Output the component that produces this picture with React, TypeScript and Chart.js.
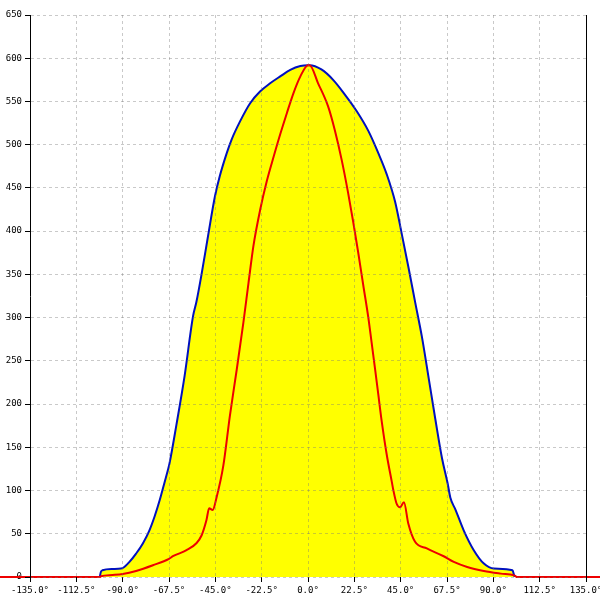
import React, { useEffect, useRef } from "react";
import { Chart, registerables } from "chart.js";

Chart.register(...registerables);

// Angles (degrees) and values for the outer (blue, filled) curve
const blueAngles = [-101.1, -100.6, -99.8, -94.9, -90.8, -89.2, -86.7, -83.5, -80.2, -77.0, -74.5, -72.0, -69.6, -68.0, -67.2, -63.9, -59.9, -55.8, -54.2, -51.7, -48.5, -45.2, -42.8, -39.5, -37.1, -33.0, -28.1, -23.3, -18.4, -13.5, -8.6, -3.7, 0.0, 0.8, 6.5, 12.2, 17.9, 23.6, 29.3, 34.2, 38.2, 42.3, 45.6, 48.8, 52.1, 55.3, 58.6, 61.8, 65.1, 67.8, 69.1, 71.6, 75.6, 80.5, 85.4, 90.3, 99.3, 100.1, 100.4];
const blueValues = [0, 5.8, 7.8, 9.3, 9.7, 11.6, 17.4, 27, 38.8, 54, 70, 89, 110, 124, 132, 176, 233, 302, 318, 350, 395, 440, 464, 490, 506, 527, 548, 561.5, 571, 579, 586.5, 591, 592, 592, 587, 575, 558, 539, 516, 490, 466, 434, 396, 358, 317, 278, 230, 183, 137, 108.5, 92, 78, 54, 31, 15.5, 9.7, 7.8, 1.9, 0];

// Angles (degrees) and values for the inner (red) curve
const redAngles = [-150, -101.1, -100.6, -94.9, -90.0, -83.5, -75.3, -67.5, -65.6, -59.0, -54.2, -51.7, -49.3, -48.0, -46.3, -44.4, -41.1, -37.9, -34.6, -31.4, -28.9, -26.5, -23.2, -20.0, -16.7, -13.5, -10.2, -7.0, -3.7, 0.0, 0.8, 4.9, 9.8, 13.0, 16.3, 19.5, 22.0, 24.4, 26.8, 29.3, 30.9, 32.5, 34.2, 35.8, 38.2, 40.7, 41.4, 43.0, 44.7, 46.6, 48.7, 52.0, 57.7, 65.9, 70.8, 77.3, 85.4, 93.6, 100.1, 100.9, 101.5, 150];
const redValues = [0, 0, 0.8, 2.3, 3.5, 7, 13.6, 21, 24, 31, 39, 48, 66, 79.5, 77.5, 92, 129, 187, 240, 294, 340, 383, 425, 458, 486, 512, 537, 560, 579, 592, 592, 571, 544, 517, 483, 444, 410, 375, 338, 300, 271, 242, 210, 180, 142, 110, 101, 85, 80.6, 86.4, 62, 40.7, 33, 24, 17.4, 11.6, 7, 3.9, 1.9, 0.8, 0, 0];

// Axis ranges / ticks
const xMin = -135;
const xMax = 135;
const xStep = 22.5;
const yMin = 0;
const yMax = 650;
const yStep = 50;

const tickFont = { family: "'DejaVu Sans Mono', monospace", size: 9 };
const gridColor = "rgba(120,120,120,0.4)";

export default function App() {
  const canvasRef = useRef<HTMLCanvasElement | null>(null);

  useEffect(() => {
    const canvas = canvasRef.current;
    if (!canvas) return;
    const blueData = blueAngles.map((x, i) => ({ x, y: blueValues[i] }));
    const redData = redAngles.map((x, i) => ({ x, y: redValues[i] }));

    const chart = new Chart(canvas, {
      type: "line",
      data: {
        datasets: [
          {
            label: "inner",
            data: redData,
            borderColor: "#ee0000",
            borderWidth: 2,
            pointRadius: 0,
            fill: false,
            cubicInterpolationMode: "monotone",
            clip: false as any,
          },
          {
            label: "outer",
            data: blueData,
            borderColor: "#0010c0",
            backgroundColor: "#ffff00",
            borderWidth: 2,
            pointRadius: 0,
            fill: "origin",
            cubicInterpolationMode: "monotone",
          },
        ],
      },
      options: {
        responsive: false,
        animation: false,
        layout: { padding: { top: 15, left: 0, right: 0, bottom: 0 } },
        plugins: {
          legend: { display: false },
          tooltip: { enabled: false },
        },
        scales: {
          x: {
            type: "linear",
            min: xMin,
            max: xMax,
            afterBuildTicks: (scale: any) => {
              const t = [];
              for (let v = xMin; v <= xMax + 1e-9; v += xStep) t.push({ value: v });
              scale.ticks = t;
            },
            afterFit: (scale: any) => {
              scale.height = 23;
              scale.paddingLeft = 0;
              scale.paddingRight = 0;
            },
            ticks: {
              color: "#000",
              font: tickFont,
              padding: 3,
              maxRotation: 0,
              autoSkip: false,
              callback: (v: any) => Number(v).toFixed(1) + "°",
            },
            grid: {
              color: gridColor,
              tickColor: "#000",
              tickLength: 5,
              z: 1,
            },
            border: { display: false, dash: [3, 3] },
          },
          y: {
            type: "linear",
            position: "left",
            min: yMin,
            max: yMax,
            afterFit: (scale: any) => {
              scale.width = 30;
              scale.paddingTop = 0;
              scale.paddingBottom = 0;
            },
            ticks: {
              stepSize: yStep,
              color: "#000",
              font: tickFont,
              padding: 3,
            },
            grid: {
              color: gridColor,
              tickColor: "#000",
              tickLength: 5,
              z: 1,
            },
            border: { display: true, color: "#000", width: 1, dash: [3, 3], z: 2 },
          },
          y2: {
            type: "linear",
            position: "right",
            min: yMin,
            max: yMax,
            afterFit: (scale: any) => {
              scale.width = 14;
              scale.paddingTop = 0;
              scale.paddingBottom = 0;
            },
            ticks: { display: false },
            grid: { drawOnChartArea: false, drawTicks: false },
            border: { display: true, color: "#000", width: 1, z: 2 },
          },
        },
      } as any,
    });
    return () => chart.destroy();
  }, []);

  return (
    <div style={{ position: "absolute", left: 0, top: 0, width: 600, height: 600, background: "#fff" }}>
      <canvas ref={canvasRef} width={600} height={600} style={{ display: "block" }} />
    </div>
  );
}
